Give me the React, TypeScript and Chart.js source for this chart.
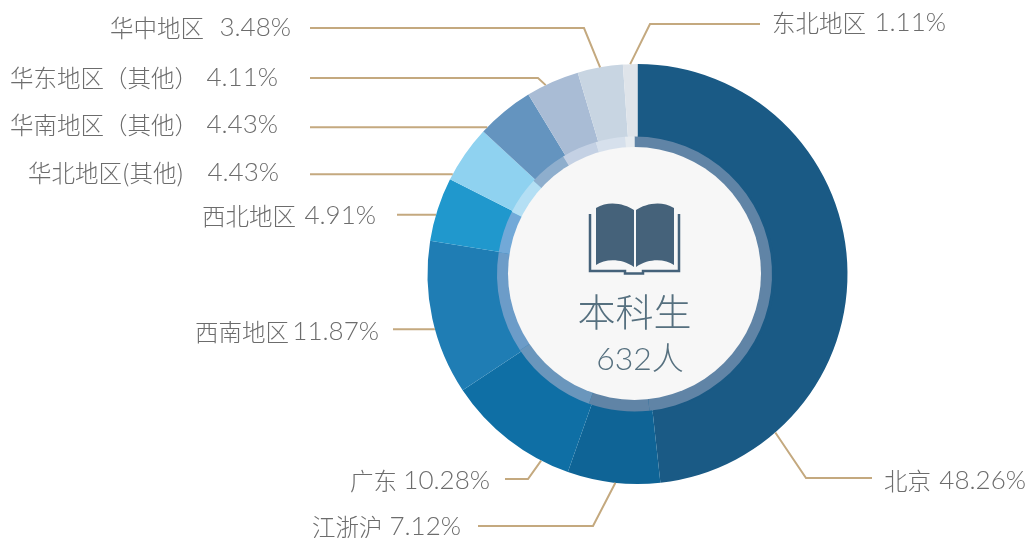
import React, { useEffect, useRef } from "react";
import { Chart, registerables } from "chart.js";

Chart.register(...registerables);

const regions = ["北京", "江浙沪", "广东", "西南地区", "西北地区", "华北地区(其他)", "华南地区（其他）", "华东地区（其他）", "华中地区", "东北地区"];
const shares = [48.26, 7.12, 10.28, 11.87, 4.91, 4.43, 4.43, 4.11, 3.48, 1.11];
const centerTitle = "本科生";
const centerCount = "632人";

const outerColors = ["#1a5a85", "#0f6496", "#0f6fa5", "#1f7db4", "#2098cd", "#8fd2f0", "#6494bf", "#a9bcd5", "#c8d5e2", "#dfe4ea"];
const innerColors = ["#6084a6", "#6084a6", "#6a96bc", "#6c9cc8", "#72a9d8", "#b4dff4", "#8eaecd", "#c4d1e4", "#d6e0ec", "#e6ebf0"];

const RING_SHIFT = -3;

type Leader = { frac: number; elbow?: [number, number]; end: [number, number]; nameX: number; valueX: number; textY: number };
const leaders: Leader[] = [
  { frac: 0.8, elbow: [806, 478], end: [872, 478], nameX: 884, valueX: 1026, textY: 481 },
  { frac: 0.48, elbow: [593, 526], end: [478, 526], nameX: 312, valueX: 461, textY: 527 },
  { frac: 0.215, elbow: [528, 479], end: [505, 479], nameX: 350, valueX: 490, textY: 481 },
  { frac: 0.43, end: [393, 331], nameX: 195, valueX: 379, textY: 332 },
  { frac: 0.41, end: [397, 214], nameX: 202, valueX: 376, textY: 216 },
  { frac: 0.1, end: [310, 173], nameX: 28, valueX: 279, textY: 173 },
  { frac: 0.1, end: [310, 126], nameX: 10, valueX: 278, textY: 125 },
  { frac: 0.365, elbow: [538, 78], end: [310, 78], nameX: 10, valueX: 278, textY: 78 },
  { frac: 0.5, elbow: [584, 28], end: [310, 28], nameX: 110, valueX: 291, textY: 28 },
  { frac: 0.5, elbow: [650, 24], end: [760, 24], nameX: 772, valueX: 946, textY: 23 },
];

const CJK = '"Noto Sans CJK SC", sans-serif';
const NUM = '"Lato", "Noto Sans CJK SC", sans-serif';

function drawBook(ctx: CanvasRenderingContext2D, cx: number) {
  ctx.save();
  ctx.fillStyle = "#45627a";
  ctx.strokeStyle = "#45627a";
  for (const s of [-1, 1]) {
    const x = (d: number) => cx + s * d;
    ctx.beginPath();
    ctx.moveTo(x(1), 210);
    ctx.bezierCurveTo(x(10), 204, x(26), 200, x(39), 208);
    ctx.lineTo(x(39), 265);
    ctx.bezierCurveTo(x(30), 259, x(14), 258, x(1), 267);
    ctx.closePath();
    ctx.fill();
  }
  ctx.lineWidth = 2.5;
  ctx.beginPath();
  ctx.moveTo(cx - 45, 214);
  ctx.lineTo(cx - 45, 271);
  ctx.lineTo(cx - 10, 271);
  ctx.lineTo(cx - 10, 273.5);
  ctx.lineTo(cx + 8, 273.5);
  ctx.lineTo(cx + 8, 271);
  ctx.lineTo(cx + 44, 271);
  ctx.lineTo(cx + 44, 214);
  ctx.stroke();
  ctx.restore();
}

const overlay = {
  id: "overlay",
  beforeDatasetsDraw(chart: any) {
    // Fills the crescent the shifted inner ring leaves open behind the outer ring.
    const { ctx } = chart;
    ctx.save();
    chart.getDatasetMeta(0).data.forEach((arc: any, i: number) => {
      const p = arc.getProps(["x", "y", "startAngle", "endAngle", "innerRadius"], true);
      ctx.fillStyle = outerColors[i];
      ctx.beginPath();
      ctx.moveTo(p.x, p.y);
      ctx.arc(p.x, p.y, p.innerRadius + 1, p.startAngle, p.endAngle);
      ctx.closePath();
      ctx.fill();
    });
    ctx.restore();
  },
  beforeDatasetDraw(chart: any, args: any) {
    if (args.index === 1) {
      chart.ctx.save();
      chart.ctx.translate(RING_SHIFT, 0);
    }
  },
  afterDatasetDraw(chart: any, args: any) {
    if (args.index === 1) chart.ctx.restore();
  },
  afterDatasetsDraw(chart: any) {
    const { ctx } = chart;
    const outer = chart.getDatasetMeta(0).data;
    const inner = chart.getDatasetMeta(1).data;
    const hole = inner[0].getProps(["x", "y"], true);

    ctx.save();
    ctx.fillStyle = "#f7f7f7";
    ctx.beginPath();
    ctx.arc(hole.x + RING_SHIFT, hole.y - 0.5, 126.5, 0, Math.PI * 2);
    ctx.fill();

    drawBook(ctx, hole.x - 2.5);

    ctx.fillStyle = "#56707f";
    ctx.textAlign = "center";
    ctx.textBaseline = "middle";
    ctx.font = `300 38px ${CJK}`;
    ctx.fillText(centerTitle, hole.x - 3, 312);
    ctx.font = `300 32px ${NUM}`;
    ctx.fillText(centerCount, hole.x + 2.5, 360);

    ctx.lineWidth = 2;
    ctx.strokeStyle = "#c4a97f";
    outer.forEach((arc: any, i: number) => {
      const p = arc.getProps(["x", "y", "startAngle", "endAngle", "outerRadius"], true);
      const l = leaders[i];
      const a = p.startAngle + (p.endAngle - p.startAngle) * l.frac;
      const sx = p.x + Math.cos(a) * p.outerRadius;
      const sy = p.y + Math.sin(a) * p.outerRadius;
      ctx.beginPath();
      ctx.moveTo(sx, sy);
      if (l.elbow) ctx.lineTo(l.elbow[0], l.elbow[1]);
      ctx.lineTo(l.end[0], l.elbow ? l.end[1] : sy);
      ctx.stroke();

      ctx.fillStyle = "#6c6c6c";
      ctx.textBaseline = "middle";
      ctx.font = `300 23.5px ${CJK}`;
      ctx.textAlign = "left";
      ctx.fillText(regions[i], l.nameX, l.textY);
      ctx.font = `300 26px ${NUM}`;
      ctx.textAlign = "right";
      ctx.fillText(`${shares[i].toFixed(2)}%`, l.valueX, l.textY);
    });
    ctx.restore();
  },
};

export default function App() {
  const ref = useRef<HTMLCanvasElement | null>(null);
  useEffect(() => {
    const chart = new Chart(ref.current as HTMLCanvasElement, {
      type: "doughnut",
      data: {
        labels: regions,
        datasets: [
          { data: shares, backgroundColor: outerColors, borderWidth: 0, weight: 72.5, order: 1 },
          { data: shares, backgroundColor: innerColors, borderWidth: 0, weight: 13.5, order: 0 },
        ],
      },
      options: {
        responsive: false,
        animation: false,
        cutout: 124,
        layout: { padding: { left: 427.5, right: 181.5, top: 64, bottom: 54 } },
        plugins: { legend: { display: false }, tooltip: { enabled: false } },
      },
      plugins: [overlay],
    } as any);
    return () => chart.destroy();
  }, []);
  return (
    <canvas
      ref={ref}
      width={1029}
      height={538}
      style={{ position: "absolute", left: 0, top: 0, width: 1029, height: 538, background: "#fff" }}
    />
  );
}
